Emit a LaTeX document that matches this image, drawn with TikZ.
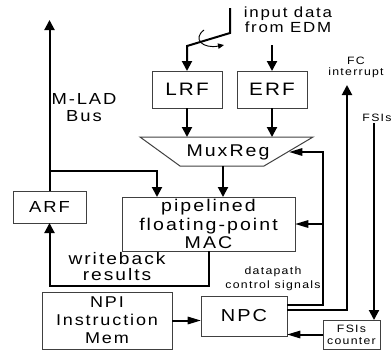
\documentclass[tikz,border=0pt]{standalone}
\usepackage{fontspec}
\setmainfont{Liberation Sans}
\newfontfamily\dfont[FakeStretch=1.15,LetterSpace=12]{Liberation Sans}
\usetikzlibrary{arrows.meta}
\begin{document}
\begin{tikzpicture}[x=0.75pt,y=-0.75pt,
  box/.style={draw=black!75, line width=0.75pt, inner sep=0pt, outer sep=0pt, align=center},
  outline/.style={draw=black!75, line width=0.75pt},
  conn/.style={line width=1.5pt, black},
  va/.style={conn, -{Triangle[length=7.5pt,width=7.5pt]}},
  ha/.style={conn, -{Triangle[length=10pt,width=5.5pt]}},
  lbl/.style={align=center, inner sep=0pt}
]
\useasboundingbox (0,0) rectangle (391,354);

% boxes
\node[box, minimum width=52.5pt, minimum height=27.75pt, font=\dfont\fontsize{13.5pt}{16pt}\selectfont] (LRF) at (187,89.5) {LRF};
\node[box, minimum width=52.5pt, minimum height=27.75pt, font=\dfont\fontsize{13.5pt}{16pt}\selectfont] (ERF) at (272,89.5) {ERF};
\node[box, minimum width=129.75pt, minimum height=40.5pt, font=\dfont\fontsize{12.75pt}{13.9pt}\selectfont] (MAC) at (208.5,224) {pipelined\\floating-point\\MAC};
\node[box, minimum width=54.75pt, minimum height=24pt, font=\dfont\fontsize{12pt}{14pt}\selectfont] (ARF) at (49.5,207) {ARF};
\node[box, minimum width=97.5pt, minimum height=42.75pt, font=\dfont\fontsize{11.75pt}{13.5pt}\selectfont] (NPI) at (107,320.5) {NPI\\Instruction\\Mem};
\node[box, minimum width=64.5pt, minimum height=30pt, font=\dfont\fontsize{13pt}{15pt}\selectfont] (NPC) at (244,316) {NPC};
\node[box, minimum width=42.75pt, minimum height=21.75pt, font=\dfont\fontsize{8pt}{9pt}\selectfont] (FSI) at (351.5,334.5) {FSIs\\counter};

% MuxReg trapezoid
\coordinate (muxTL) at (140,137);
\coordinate (muxTR) at (313,137);
\coordinate (muxBR) at (264,166);
\coordinate (muxBL) at (180,166);
\draw[outline] (muxTL) -- (muxTR) -- (muxBR) -- (muxBL) -- cycle;
\node[lbl, font=\dfont\fontsize{12.75pt}{14pt}\selectfont] (mux) at (228,152) {MuxReg};
\coordinate (muxout) at (223,166);
\coordinate (muxR) at (289,152);

% labels
\node[lbl, font=\dfont\fontsize{11pt}{11.5pt}\selectfont] (inlbl) at (288,20) {input data\\from EDM};
\node[lbl, font=\dfont\fontsize{12pt}{12.75pt}\selectfont] (buslbl) at (84,108) {M-LAD\\Bus};
\node[lbl, font=\dfont\fontsize{12.5pt}{12pt}\selectfont] (wblbl) at (117,267) {writeback\\results};
\node[lbl, font=\dfont\fontsize{8pt}{10.5pt}\selectfont] (dplbl) at (273,279) {datapath\\control signals};
\node[lbl, font=\dfont\fontsize{8pt}{8.5pt}\selectfont] (fclbl) at (356,67.5) {FC\\interrupt};
\node[lbl, font=\dfont\fontsize{8pt}{9pt}\selectfont] (fsilbl) at (377,118) {FSIs};

% input data
\coordinate (in1) at (230,8);
\coordinate (in2) at (230,33);
\coordinate (in3) at (187,46);
\draw[va] (in1) -- (in2) -- (in3) -- (in3 |- LRF.north);
\coordinate (sw1) at (204,30);
\coordinate (sw2) at (224,45);
\draw[line width=0.7pt, -{Triangle[length=4.5pt,width=4pt]}] (sw1) .. controls (192,39) and (203,49) .. (sw2);
\coordinate (erfin) at (272,45);
\draw[va] (erfin) -- (ERF.north);

% into mux
\draw[va] (LRF.south) -- (LRF.south |- muxTL);
\draw[va] (ERF.south) -- (ERF.south |- muxTL);
\draw[va] (muxout) -- (muxout |- MAC.north);

% bus
\coordinate (bustop) at (49.5,20);
\draw[va] (ARF.north) -- (bustop);
\coordinate (busbr) at (49.5,171);
\coordinate (macin) at (157,171);
\draw[va] (busbr) -- (macin) -- (macin |- MAC.north);

% writeback
\coordinate (wb1) at (208.5,286);
\coordinate (wb2) at (49.5,286);
\draw[va] (MAC.south) -- (wb1) -- (wb2) -- (ARF.south);

% NPI -> NPC, FSI -> NPC
\draw[ha] (NPI.east) -- (NPI.east -| NPC.west);
\draw[ha] (FSI.west) -- (FSI.west -| NPC.east);
\coordinate (fsitop) at (374,123);
\draw[va] (fsitop) -- (fsitop |- FSI.north);

% control signals
\coordinate (ctl0) at (287,305);
\coordinate (ctl1) at (323,305);
\coordinate (ctl2) at (323,152);
\coordinate (ctl3) at (323,224);
\draw[ha] (ctl0) -- (ctl1) -- (ctl2) -- (muxR);
\draw[ha] (ctl3) -- (ctl3 -| MAC.east);

% FC interrupt
\coordinate (fc0) at (287,310);
\coordinate (fc1) at (347,310);
\coordinate (fctop) at (347,85);
\draw[va] (fc0) -- (fc1) -- (fctop);
\end{tikzpicture}
\end{document}
